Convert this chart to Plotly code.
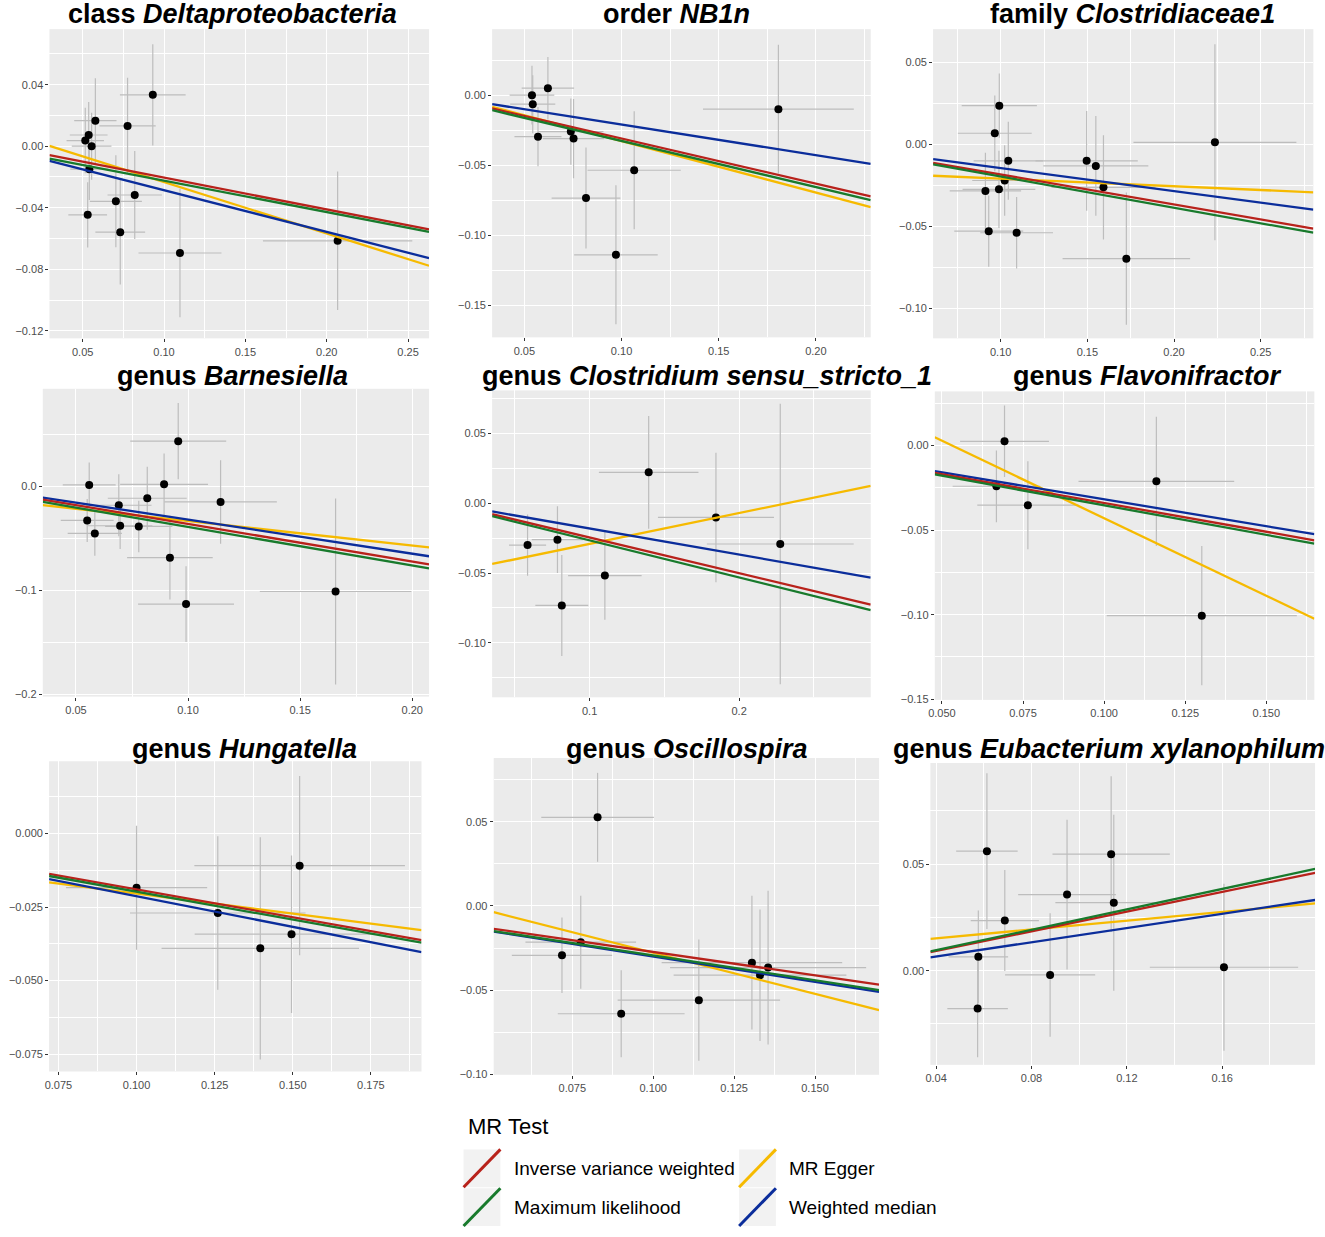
import plotly.graph_objects as go

# ---- data ----
methods = ["Inverse variance weighted", "Maximum likelihood", "MR Egger", "Weighted median"]
method_colors = ["#B8221B", "#187A2C", "#F6BA00", "#0B2D9B"]

titles = [
    "<b>class <i>Deltaproteobacteria</i></b>",
    "<b>order <i>NB1n</i></b>",
    "<b>family <i>Clostridiaceae1</i></b>",
    "<b>genus <i>Barnesiella</i></b>",
    "<b>genus <i>Clostridium sensu_stricto_1</i></b>",
    "<b>genus <i>Flavonifractor</i></b>",
    "<b>genus <i>Hungatella</i></b>",
    "<b>genus <i>Oscillospira</i></b>",
    "<b>genus <i>Eubacterium xylanophilum</i></b>",
]

# class Deltaproteobacteria
delta_bx = [0.0931, 0.0578, 0.0776, 0.0537, 0.0516, 0.0555, 0.0541, 0.0704, 0.0820, 0.0531, 0.0731, 0.1098, 0.2067]
delta_by = [0.0334, 0.0166, 0.0132, 0.0073, 0.0037, 0.0000, -0.0149, -0.0358, -0.0317, -0.0446, -0.0559, -0.0694, -0.0615]
delta_sx = [0.0202, 0.0130, 0.0173, 0.0116, 0.0115, 0.0122, 0.0117, 0.0160, 0.0167, 0.0119, 0.0153, 0.0255, 0.0459]
delta_sy = [0.0329, 0.0276, 0.0313, 0.0214, 0.0213, 0.0218, 0.0200, 0.0299, 0.0286, 0.0212, 0.0340, 0.0418, 0.0450]
delta_slope = [-0.207, -0.204, -0.334, -0.271]
delta_icpt = [0.0003, -0.0020, 0.0101, -0.0015]

# order NB1n
nb1n_bx = [0.0539, 0.0621, 0.0543, 0.0570, 0.0739, 0.0753, 0.0817, 0.1065, 0.0971, 0.1807]
nb1n_by = [0.0000, 0.0050, -0.0064, -0.0296, -0.0260, -0.0310, -0.0735, -0.0536, -0.1140, -0.0100]
nb1n_sx = [0.0115, 0.0135, 0.0116, 0.0121, 0.0168, 0.0158, 0.0177, 0.0240, 0.0215, 0.0388]
nb1n_sy = [0.0210, 0.0223, 0.0207, 0.0211, 0.0236, 0.0283, 0.0361, 0.0421, 0.0496, 0.0460]
nb1n_slope = [-0.3224, -0.3296, -0.3676, -0.2187]
nb1n_icpt = [0.0013, 0.0003, 0.0040, 0.0009]

# family Clostridiaceae1
clos1_bx = [0.0992, 0.0966, 0.1044, 0.1023, 0.0912, 0.0990, 0.0931, 0.1092, 0.1496, 0.1549, 0.1593, 0.1725, 0.2236]
clos1_by = [0.0237, 0.0069, -0.0099, -0.0219, -0.0283, -0.0273, -0.0528, -0.0538, -0.0099, -0.0130, -0.0261, -0.0696, 0.0014]
clos1_sx = [0.0217, 0.0213, 0.0200, 0.0187, 0.0206, 0.0210, 0.0199, 0.0210, 0.0295, 0.0303, 0.0300, 0.0368, 0.0470]
clos1_sy = [0.0196, 0.0231, 0.0238, 0.0215, 0.0233, 0.0236, 0.0218, 0.0218, 0.0304, 0.0304, 0.0318, 0.0403, 0.0598]
clos1_slope = [-0.1828, -0.1900, -0.0460, -0.1404]
clos1_icpt = [0.0000, -0.0005, -0.0162, -0.0003]

# genus Barnesiella
barn_bx = [0.0956, 0.0559, 0.0893, 0.0818, 0.1145, 0.0691, 0.0550, 0.0697, 0.0780, 0.0584, 0.0919, 0.0991, 0.1658]
barn_by = [0.0433, 0.0013, 0.0019, -0.0115, -0.0150, -0.0182, -0.0328, -0.0379, -0.0385, -0.0452, -0.0685, -0.1131, -0.1010]
barn_sx = [0.0214, 0.0118, 0.0196, 0.0176, 0.0251, 0.0146, 0.0118, 0.0144, 0.0150, 0.0121, 0.0191, 0.0214, 0.0338]
barn_sy = [0.0366, 0.0215, 0.0295, 0.0303, 0.0401, 0.0298, 0.0207, 0.0223, 0.0247, 0.0215, 0.0403, 0.0363, 0.0892]
barn_slope = [-0.361, -0.370, -0.2345, -0.327]
barn_icpt = [0.0000, -0.0020, -0.0099, 0.0007]

# genus Clostridium sensu_stricto_1
css1_bx = [0.0585, 0.0785, 0.0814, 0.1102, 0.1395, 0.1845, 0.2275]
css1_by = [-0.0300, -0.0261, -0.0732, -0.0518, 0.0221, -0.0102, -0.0292]
css1_sx = [0.0124, 0.0172, 0.0177, 0.0246, 0.0333, 0.0388, 0.0491]
css1_sy = [0.0220, 0.0239, 0.0362, 0.0317, 0.0404, 0.0464, 0.1004]
css1_slope = [-0.2555, -0.2658, 0.2208, -0.1870]
css1_icpt = [0.0010, 0.0000, -0.0512, 0.0006]

# genus Flavonifractor
flav_bx = [0.0693, 0.0668, 0.0765, 0.1161, 0.1301]
flav_by = [0.0025, -0.0241, -0.0353, -0.0212, -0.1006]
flav_sx = [0.0137, 0.0135, 0.0156, 0.0240, 0.0293]
flav_sy = [0.0211, 0.0212, 0.0260, 0.0382, 0.0412]
flav_slope = [-0.340, -0.3496, -0.917, -0.318]
flav_icpt = [0.0000, -0.0004, 0.0487, 0.0000]

# genus Hungatella
hung_bx = [0.1000, 0.1260, 0.1396, 0.1496, 0.1522]
hung_by = [-0.0184, -0.0270, -0.0390, -0.0342, -0.0109]
hung_sx = [0.0226, 0.0281, 0.0316, 0.0310, 0.0337]
hung_sy = [0.0211, 0.0261, 0.0378, 0.0268, 0.0305]
hung_slope = [-0.1896, -0.1904, -0.1360, -0.2080]
hung_icpt = [0.0000, -0.0007, -0.0068, -0.0005]

# genus Oscillospira
osci_bx = [0.0828, 0.0776, 0.0718, 0.0901, 0.1141, 0.1305, 0.1330, 0.1355]
osci_by = [0.0526, -0.0215, -0.0293, -0.0640, -0.0559, -0.0337, -0.0411, -0.0366]
osci_sx = [0.0174, 0.0171, 0.0155, 0.0196, 0.0251, 0.0279, 0.0267, 0.0303]
osci_sy = [0.0264, 0.0276, 0.0224, 0.0258, 0.0360, 0.0397, 0.0390, 0.0456]
osci_slope = [-0.278, -0.294, -0.4878, -0.3006]
osci_icpt = [0.0005, 0.0000, 0.0210, 0.0000]

# genus Eubacterium xylanophilum
euba_bx = [0.0613, 0.1134, 0.0949, 0.1145, 0.0688, 0.0577, 0.0878, 0.0574, 0.1607]
euba_by = [0.0561, 0.0547, 0.0357, 0.0319, 0.0235, 0.0065, -0.0020, -0.0178, 0.0016]
euba_sx = [0.0129, 0.0246, 0.0205, 0.0245, 0.0143, 0.0125, 0.0189, 0.0127, 0.0311]
euba_sy = [0.0366, 0.0366, 0.0351, 0.0413, 0.0237, 0.0218, 0.0290, 0.0228, 0.0392]
euba_slope = [0.231, 0.240, 0.1029, 0.1668]
euba_icpt = [0.0000, 0.0000, 0.0111, 0.0000]

# tick labels
x_ticks = [
    ["0.05", "0.10", "0.15", "0.20", "0.25"],
    ["0.05", "0.10", "0.15", "0.20"],
    ["0.10", "0.15", "0.20", "0.25"],
    ["0.05", "0.10", "0.15", "0.20"],
    ["0.1", "0.2"],
    ["0.050", "0.075", "0.100", "0.125", "0.150"],
    ["0.075", "0.100", "0.125", "0.150", "0.175"],
    ["0.075", "0.100", "0.125", "0.150"],
    ["0.04", "0.08", "0.12", "0.16"],
]
y_ticks = [
    ["-0.12", "-0.08", "-0.04", "0.00", "0.04"],
    ["-0.15", "-0.10", "-0.05", "0.00"],
    ["-0.10", "-0.05", "0.00", "0.05"],
    ["-0.2", "-0.1", "0.0"],
    ["-0.10", "-0.05", "0.00", "0.05"],
    ["-0.15", "-0.10", "-0.05", "0.00"],
    ["-0.075", "-0.050", "-0.025", "0.000"],
    ["-0.10", "-0.05", "0.00", "0.05"],
    ["0.00", "0.05"],
]

panels = [
    (delta_bx, delta_by, delta_sx, delta_sy, delta_slope, delta_icpt),
    (nb1n_bx, nb1n_by, nb1n_sx, nb1n_sy, nb1n_slope, nb1n_icpt),
    (clos1_bx, clos1_by, clos1_sx, clos1_sy, clos1_slope, clos1_icpt),
    (barn_bx, barn_by, barn_sx, barn_sy, barn_slope, barn_icpt),
    (css1_bx, css1_by, css1_sx, css1_sy, css1_slope, css1_icpt),
    (flav_bx, flav_by, flav_sx, flav_sy, flav_slope, flav_icpt),
    (hung_bx, hung_by, hung_sx, hung_sy, hung_slope, hung_icpt),
    (osci_bx, osci_by, osci_sx, osci_sy, osci_slope, osci_icpt),
    (euba_bx, euba_by, euba_sx, euba_sy, euba_slope, euba_icpt),
]

# ---- layout settings ----
W, H = 1325, 1237
FONT = "Arial, Liberation Sans, sans-serif"
# panel boxes in px: left, right, top, bottom
boxes = [
    (42.7, 424.3, 29.3, 340.0), (487.7, 868.3, 29.3, 339.0), (931.0, 1313.3, 29.3, 340.0),
    (36.0, 424.3, 390.7, 700.0), (487.7, 868.3, 392.3, 700.7), (932.7, 1314.3, 393.3, 703.3),
    (42.3, 416.7, 765.0, 1076.7), (489.3, 876.7, 761.7, 1080.0), (928.3, 1315.0, 766.7, 1070.0),
]
x_ranges = [
    [0.0296, 0.2629], [0.0334, 0.2282], [0.061, 0.2804],
    [0.0352, 0.2075], [0.0348, 0.288], [0.0478, 0.1648],
    [0.072, 0.1912], [0.0507, 0.1698], [0.0376, 0.1989],
]
y_ranges = [
    [-0.1249, 0.0761], [-0.173, 0.0472], [-0.1182, 0.0704],
    [-0.2019, 0.0936], [-0.139, 0.0808], [-0.1504, 0.032],
    [-0.0809, 0.0246], [-0.1002, 0.0878], [-0.0442, 0.0975],
]
title_pos = [(227, 14), (673.5, 14), (1131.5, 14),
             (227, 378), (704, 378), (1146.7, 378),
             (239, 753), (684, 753), (1107.5, 753)]


def minor_vals(vals):
    step = vals[1] - vals[0]
    return [vals[0] - step / 2] + [v + step / 2 for v in vals]


fig = go.Figure()
layout = {}
annotations = []

for i, (bx, by, sx, sy, slope, icpt) in enumerate(panels):
    n = "" if i == 0 else str(i + 1)
    xa, ya = "x" + n, "y" + n
    left, right, top, bottom = boxes[i]

    fig.add_trace(go.Scatter(
        x=bx, y=by, mode="markers", xaxis=xa, yaxis=ya, showlegend=False,
        marker=dict(color="black", size=8),
        error_x=dict(type="data", array=sx, width=0, thickness=1.2, color="#BDBDBD"),
        error_y=dict(type="data", array=sy, width=0, thickness=1.2, color="#BDBDBD"),
        hoverinfo="skip",
    ))
    x0, x1 = x_ranges[i]
    for m in [2, 3, 0, 1]:
        fig.add_trace(go.Scatter(
            x=[x0, x1], y=[icpt[m] + slope[m] * x0, icpt[m] + slope[m] * x1],
            mode="lines", xaxis=xa, yaxis=ya, showlegend=False,
            line=dict(color=method_colors[m], width=2.3), name=methods[m],
        ))

    xt = [float(t) for t in x_ticks[i]]
    yt = [float(t) for t in y_ticks[i]]
    common = dict(
        showgrid=True, gridcolor="white", gridwidth=1.4, zeroline=False, showline=False,
        ticks="outside", ticklen=3, tickwidth=1, tickcolor="#333333",
        tickfont=dict(family=FONT, size=11, color="#4D4D4D"), fixedrange=True,
    )
    layout["xaxis" + n] = dict(
        common, domain=[left / W, right / W], range=x_ranges[i], anchor=ya,
        tickvals=xt, ticktext=x_ticks[i],
        minor=dict(tickvals=minor_vals(xt), showgrid=True, gridcolor="white", gridwidth=0.7),
    )
    layout["yaxis" + n] = dict(
        common, domain=[1 - bottom / H, 1 - top / H], range=y_ranges[i], anchor=xa,
        tickvals=yt, ticktext=[t.replace("-", "\u2212") for t in y_ticks[i]],
        minor=dict(tickvals=minor_vals(yt), showgrid=True, gridcolor="white", gridwidth=0.7),
    )
    tx, ty = title_pos[i]
    annotations.append(dict(
        text=titles[i], x=tx / W, y=1 - ty / H, xref="paper", yref="paper",
        xanchor="center", yanchor="middle", showarrow=False,
        font=dict(family=FONT, size=27, color="black"),
    ))

# ---- custom legend (ggplot style keys) ----
shapes = []
annotations.append(dict(
    text="MR Test", x=461 / W, y=1 - 1132 / H, xref="paper", yref="paper",
    xanchor="left", yanchor="middle", showarrow=False,
    font=dict(family=FONT, size=22, color="black"),
))
key_cols = [(459, 496, 508), (736, 773, 784)]
key_rows = [(1155, 1193), (1194, 1232)]
for m, name in enumerate(methods):
    kx0, kx1, lx = key_cols[m // 2]
    ky0, ky1 = key_rows[m % 2]
    shapes.append(dict(type="rect", xref="paper", yref="paper",
                       x0=kx0 / W, x1=kx1 / W, y0=1 - ky1 / H, y1=1 - ky0 / H,
                       fillcolor="#F2F2F2", line=dict(width=0), layer="below"))
    shapes.append(dict(type="line", xref="paper", yref="paper",
                       x0=kx0 / W, x1=kx1 / W, y0=1 - ky1 / H, y1=1 - ky0 / H,
                       line=dict(color=method_colors[m], width=3)))
    annotations.append(dict(
        text=name, x=lx / W, y=1 - (ky0 + ky1) / 2 / H, xref="paper", yref="paper",
        xanchor="left", yanchor="middle", showarrow=False,
        font=dict(family=FONT, size=19, color="black"),
    ))

fig.update_layout(
    width=W, height=H, margin=dict(l=0, r=0, t=0, b=0),
    paper_bgcolor="white", plot_bgcolor="#EBEBEB",
    showlegend=False, annotations=annotations, shapes=shapes,
    font=dict(family=FONT), **layout,
)

# drop the default page margin so the figure sits at the window origin
fig.write_html("out.html", config={"displayModeBar": False},
               post_script="document.body.style.margin='0';")
